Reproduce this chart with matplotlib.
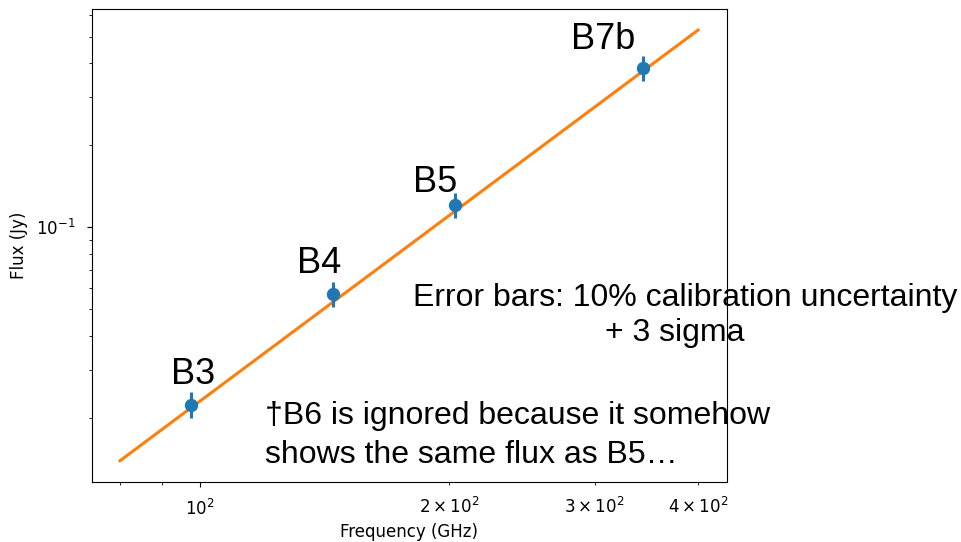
import numpy as np
import matplotlib.pyplot as plt

# measured flux density per ALMA band
bands = ["B3", "B4", "B5", "B7b"]
freq_ghz = [97.5, 144.9, 203.4, 343.6]
flux_jy = [0.0224, 0.0569, 0.1207, 0.3846]
flux_err = [0.0024, 0.0060, 0.0127, 0.0405]

# power-law fit, end points
fit_freq = [80.0, 400.0]
fit_flux = [0.01394, 0.5288]

# label offsets (pixels) from each point
label_dx = [2, -14, -20, -40]
label_dy = [21, 21, 13, 19]

W, H = 961, 542
fig = plt.figure(figsize=(W / 100, H / 100), dpi=100)
ax = fig.add_axes([92 / W, 1 - 482 / H, (727 - 92) / W, (482 - 9.3) / H])

ax.plot(fit_freq, fit_flux, color="#ff7f0e", lw=2.2)
ax.errorbar(freq_ghz, flux_jy, yerr=flux_err, fmt="o", color="#1f77b4",
            ms=8.6, elinewidth=2.2, capsize=0)

ax.set_xscale("log")
ax.set_yscale("log")
ax.set_xlim(74.0, 433.6)
ax.set_ylim(0.01165, 0.630)
ax.tick_params(which="both", labelsize=12, pad=8.5)
ax.set_xlabel("Frequency (GHz)", fontsize=12, labelpad=3)
ax.set_ylabel("Flux (Jy)", fontsize=12, labelpad=6)

for name, x, y, dx, dy in zip(bands, freq_ghz, flux_jy, label_dx, label_dy):
    ax.annotate(name, (x, y), xytext=(dx, dy), textcoords="offset pixels",
                ha="center", va="baseline", fontsize=26,
                family="Liberation Sans")

# notes sit under the spines
note = dict(fontsize=23, family="Liberation Sans", va="baseline", zorder=1,
            transform=fig.transFigure, clip_on=False)
ax.text(413 / W, 1 - 305.8 / H, "Error bars: 10% calibration uncertainty", **note)
ax.text(605 / W, 1 - 340.5 / H, "+ 3 sigma", **note)
ax.text(265 / W, 1 - 424 / H, "\u2020B6 is ignored because it somehow", **note)
ax.text(265 / W, 1 - 462.7 / H, "shows the same flux as B5\u2026", **note)

fig.savefig("out.png", dpi=100)
